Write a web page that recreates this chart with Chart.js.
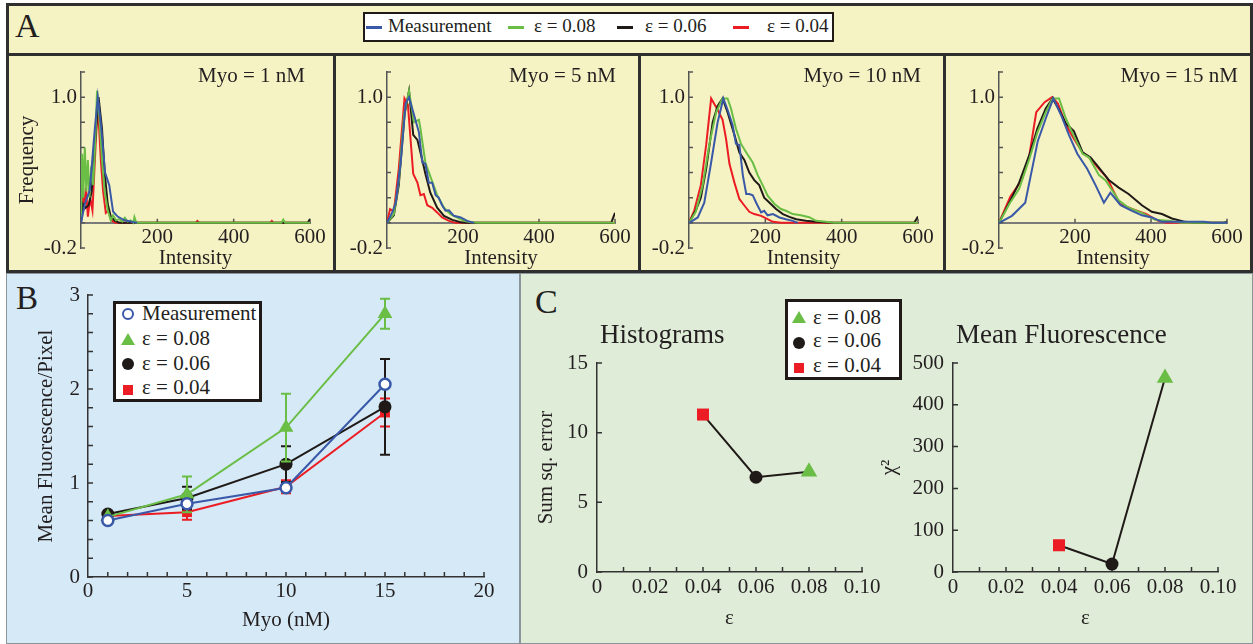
<!DOCTYPE html>
<html lang="en">
<head>
<meta charset="UTF-8">
<title>Histograms and mean fluorescence</title>
<script src="https://cdn.jsdelivr.net/npm/chart.js"></script>
<style>
  body { margin: 0; background: #fff; }
  #fig { position: relative; width: 1253px; height: 644px; overflow: hidden; font-family: 'Liberation Serif', 'Times New Roman', serif; color: #231f20; }
  .abs, .ln, .t, .box, .mk { position: absolute; }
  .ln { background: #2f2f2f; }
  .t { white-space: nowrap; line-height: 1; }
  .box { background: #fff; border: 3px solid #1f1a17; box-sizing: border-box; }
  canvas { position: absolute; }
</style>
</head>
<body>
<div id="fig">
  <!-- panel backgrounds -->
  <div class="abs" style="left:6px;top:3px;width:1247px;height:270px;background:#f5f3c3"></div>
  <div class="abs" style="left:6px;top:273px;width:514px;height:371px;background:#d5eaf6;border:1px solid #8a9499;box-sizing:border-box"></div>
  <div class="abs" style="left:520px;top:273px;width:733px;height:371px;background:#dfecd8;border:1px solid #8a9499;box-sizing:border-box"></div>

  <!-- panel A frame -->
  <div class="ln" style="left:6px;top:3px;width:1247px;height:3px"></div>
  <div class="ln" style="left:6px;top:53px;width:1247px;height:3px"></div>
  <div class="ln" style="left:6px;top:270px;width:1247px;height:3px"></div>
  <div class="ln" style="left:6px;top:3px;width:3px;height:270px"></div>
  <div class="ln" style="left:1250px;top:3px;width:3px;height:270px"></div>
  <div class="ln" style="left:333px;top:53px;width:3px;height:220px"></div>
  <div class="ln" style="left:638px;top:53px;width:3px;height:220px"></div>
  <div class="ln" style="left:943px;top:53px;width:3px;height:220px"></div>

  <!-- panel letters -->
  <div class="t" style="left:15px;top:9px;font-size:34px">A</div>
  <div class="t" style="left:16px;top:282px;font-size:33px">B</div>
  <div class="t" style="left:535px;top:285px;font-size:34px">C</div>

  <!-- legend A -->
  <div class="box" style="left:363px;top:12px;width:471px;height:30px;border-width:2px"></div>
  <div class="mk" style="left:366px;top:26px;width:16px;height:3px;background:#3a58a8"></div>
  <div class="t" style="left:388px;top:16px;font-size:19px">Measurement</div>
  <div class="mk" style="left:508px;top:26px;width:16px;height:3px;background:#6abd45"></div>
  <div class="t" style="left:534px;top:16px;font-size:19px">ε = 0.08</div>
  <div class="mk" style="left:617px;top:26px;width:16px;height:3px;background:#1f1a17"></div>
  <div class="t" style="left:645px;top:16px;font-size:19px">ε = 0.06</div>
  <div class="mk" style="left:733px;top:26px;width:16px;height:3px;background:#ec1c24"></div>
  <div class="t" style="left:767px;top:16px;font-size:19px">ε = 0.04</div>

  <!-- histogram charts -->
  <canvas id="a1" width="324" height="214" style="left:9px;top:56px"></canvas>
  <canvas id="a2" width="302" height="214" style="left:336px;top:56px"></canvas>
  <canvas id="a3" width="302" height="214" style="left:641px;top:56px"></canvas>
  <canvas id="a4" width="304" height="214" style="left:946px;top:56px"></canvas>
  <div class="t" style="right:948px;top:65px;font-size:21px">Myo = 1 nM</div>
  <div class="t" style="right:637px;top:65px;font-size:21px">Myo = 5 nM</div>
  <div class="t" style="right:332px;top:65px;font-size:21px">Myo = 10 nM</div>
  <div class="t" style="right:15px;top:65px;font-size:21px">Myo = 15 nM</div>

  <!-- panel B -->
  <canvas id="b" width="513" height="368" style="left:7px;top:276px"></canvas>
  <div class="box" style="left:113px;top:301px;width:149px;height:101px"></div>
  <div class="mk" style="left:122px;top:308px;width:12px;height:12px;border:2.5px solid #3a58a8;border-radius:50%;background:#fff;box-sizing:border-box"></div>
  <div class="mk" style="left:121px;top:333px;width:0;height:0;border-left:7px solid transparent;border-right:7px solid transparent;border-bottom:12px solid #6abd45"></div>
  <div class="mk" style="left:122px;top:358px;width:12px;height:12px;border-radius:50%;background:#1f1a17"></div>
  <div class="mk" style="left:123px;top:385px;width:10px;height:10px;background:#ec1c24"></div>
  <div class="t" style="left:142px;top:303px;font-size:21px">Measurement</div>
  <div class="t" style="left:142px;top:328px;font-size:21px">ε = 0.08</div>
  <div class="t" style="left:142px;top:353px;font-size:21px">ε = 0.06</div>
  <div class="t" style="left:142px;top:377px;font-size:21px">ε = 0.04</div>

  <!-- panel C -->
  <canvas id="c1" width="368" height="368" style="left:522px;top:276px"></canvas>
  <canvas id="c2" width="383" height="368" style="left:870px;top:276px"></canvas>
  <div class="t" style="left:600px;top:321px;font-size:27px">Histograms</div>
  <div class="t" style="left:956px;top:321px;font-size:27px">Mean Fluorescence</div>
  <div class="box" style="left:785px;top:299px;width:117px;height:81px"></div>
  <div class="mk" style="left:792px;top:311px;width:0;height:0;border-left:7px solid transparent;border-right:7px solid transparent;border-bottom:12px solid #6abd45"></div>
  <div class="mk" style="left:793px;top:337px;width:12px;height:12px;border-radius:50%;background:#1f1a17"></div>
  <div class="mk" style="left:794px;top:363px;width:10px;height:10px;background:#ec1c24"></div>
  <div class="t" style="left:813px;top:307px;font-size:21px">ε = 0.08</div>
  <div class="t" style="left:813px;top:330px;font-size:21px">ε = 0.06</div>
  <div class="t" style="left:813px;top:355px;font-size:21px">ε = 0.04</div>
</div>

<script>
const BLUE = '#3a58a8'
const GREEN = '#6abd45'
const BLACK = '#1f1a17'
const RED = '#ec1c24'

// ---- A: normalised intensity histograms, [intensity, frequency] ----
const a1Meas = [[0,0],[10,0.15],[23,0.26],[36,0.74],[44,1.0],[53,0.76],[63,0.4],[74,0.3],[84,0.09],[96,0.05],[114,0.02],[130,0.01],[147,0]]
const a1E08 = [[0,0],[3,0.55],[6,0.2],[10,0.6],[14,0.25],[18,0.5],[22,0.2],[27,0.45],[32,0.3],[38,0.7],[42,1.05],[48,0.85],[55,0.5],[62,0.25],[70,0.1],[78,0.02],[84,0.06],[92,0.02],[100,0.03],[108,0.01],[115,0.04],[122,0.01],[130,0.02],[137,0],[140,0.045],[145,0],[525,0],[530,0.025],[535,0],[600,0]]
const a1E06 = [[0,0],[5,0.15],[12,0.12],[20,0.14],[28,0.25],[36,0.6],[46,1.0],[55,0.75],[62,0.4],[70,0.15],[78,0.05],[88,0.02],[100,0],[594,0],[600,0.03]]
const a1E04 = [[0,0],[4,0.3],[8,0.1],[13,0.28],[18,0.05],[24,0.2],[30,0.1],[38,0.6],[44,0.95],[52,0.5],[58,0.25],[65,0.08],[72,0.1],[80,0.02],[90,0],[300,0],[305,0.015],[310,0],[495,0],[500,0.015],[505,0],[600,0]]

const a2Meas = [[0,0],[14,0.085],[23,0.16],[36,0.48],[49,0.95],[58,1.0],[71,0.86],[84,0.72],[93,0.48],[101,0.47],[110,0.32],[119,0.32],[128,0.22],[136,0.2],[145,0.14],[154,0.096],[163,0.1],[176,0.056],[194,0.043],[211,0.016],[229,0]]
const a2E08 = [[0,0],[18,0.07],[31,0.33],[45,0.86],[58,1.05],[71,0.8],[84,0.82],[88,0.75],[101,0.48],[114,0.37],[132,0.22],[150,0.12],[167,0.069],[189,0.035],[202,0.016],[220,0.005],[240,0],[600,0]]
const a2E06 = [[0,0],[18,0.06],[31,0.3],[46,0.86],[58,1.05],[69,0.7],[80,0.66],[92,0.51],[101,0.39],[114,0.24],[132,0.12],[150,0.056],[172,0.024],[194,0.005],[210,0],[590,0],[600,0.08]]
const a2E04 = [[0,0],[8,0.11],[18,0.09],[31,0.43],[46,0.99],[55,0.94],[69,0.39],[80,0.32],[88,0.22],[97,0.23],[106,0.14],[119,0.12],[132,0.083],[145,0.043],[163,0.016],[180,0],[600,0]]

const a3Meas = [[0,0],[23,0.043],[40,0.16],[58,0.48],[75,0.8],[90,0.99],[101,0.9],[114,0.78],[123,0.63],[132,0.62],[141,0.38],[150,0.23],[158,0.23],[167,0.22],[176,0.16],[189,0.083],[197,0.096],[206,0.06],[220,0.07],[237,0.043],[254,0.029],[272,0.016],[285,0]]
const a3E08 = [[0,0],[18,0.09],[36,0.3],[53,0.62],[71,0.88],[88,0.99],[101,0.99],[110,0.91],[123,0.75],[136,0.63],[150,0.56],[167,0.48],[180,0.38],[193,0.3],[206,0.216],[224,0.15],[241,0.11],[254,0.096],[272,0.07],[293,0.06],[315,0.045],[333,0.016],[359,0.008],[380,0],[600,0]]
const a3E06 = [[0,0],[18,0.1],[31,0.2],[45,0.43],[62,0.8],[75,0.93],[88,0.99],[101,0.88],[119,0.7],[132,0.56],[145,0.5],[158,0.4],[171,0.34],[184,0.3],[197,0.2],[211,0.16],[228,0.11],[246,0.07],[263,0.048],[281,0.029],[306,0.016],[333,0.008],[380,0],[590,0],[600,0.05]]
const a3E04 = [[0,0],[14,0.1],[31,0.3],[45,0.62],[58,0.99],[75,0.9],[88,0.82],[97,0.67],[106,0.47],[119,0.32],[132,0.19],[142,0.15],[158,0.088],[171,0.07],[189,0.056],[202,0.035],[220,0.008],[241,0],[600,0]]

const a4Meas = [[0,0],[34,0.056],[69,0.16],[102,0.65],[123,0.83],[143,0.99],[163,0.86],[184,0.7],[206,0.55],[232,0.43],[254,0.3],[276,0.16],[293,0.24],[320,0.14],[350,0.096],[376,0.06],[402,0.043],[429,0.008],[540,0.008],[560,0],[600,0]]
const a4E08 = [[0,0],[27,0.15],[53,0.27],[80,0.51],[101,0.72],[123,0.88],[141,0.99],[158,0.99],[176,0.83],[197,0.69],[220,0.55],[237,0.52],[263,0.38],[280,0.34],[315,0.18],[341,0.12],[376,0.08],[411,0.024],[446,0.016],[481,0],[600,0]]
const a4E06 = [[0,0],[27,0.16],[53,0.32],[80,0.54],[101,0.75],[123,0.91],[141,0.99],[158,0.9],[176,0.79],[197,0.73],[220,0.56],[241,0.52],[263,0.44],[289,0.34],[315,0.28],[341,0.23],[376,0.14],[402,0.088],[429,0.07],[455,0.035],[490,0.008],[516,0],[590,0],[600,0.01]]
const a4E04 = [[0,0],[30,0.21],[60,0.34],[80,0.54],[98,0.88],[120,0.96],[140,1.0],[155,0.95],[176,0.78],[197,0.67],[220,0.56],[241,0.51],[263,0.43],[284,0.36],[300,0.26],[318,0.15],[350,0.11],[388,0.07],[416,0.02],[440,0],[600,0]]

// ---- B: mean fluorescence per pixel vs myosin ----
const myo = [1, 5, 10, 15]
const bMeas = [0.60, 0.78, 0.95, 2.05]
const bE08 = [0.64, 0.88, 1.59, 2.80]
const bE08Err = [0, 0.19, 0.36, 0.16]
const bE06 = [0.67, 0.84, 1.20, 1.81]
const bE06Err = [0, 0.12, 0.19, 0.51]
const bE04 = [0.65, 0.69, 0.96, 1.75]
const bE04Err = [0.02, 0.08, 0.07, 0.15]

// ---- C: fit quality vs epsilon ----
const eps = [0.04, 0.06, 0.08]
const sumSqErr = [11.3, 6.8, 7.2]
const chiSq = [64, 19, 464]
const epsStyles = ['rect', 'circle', 'triangle']
const epsColors = [RED, BLACK, GREEN]
const epsSizes = [8.5, 6.5, 9.5]

Chart.defaults.font.family = "'Liberation Serif', 'Times New Roman', serif"
Chart.defaults.font.size = 21
Chart.defaults.color = '#231f20'
Chart.defaults.animation = false
Chart.defaults.plugins.legend.display = false
Chart.defaults.plugins.tooltip.enabled = false

// tick marks pointing into the plot
const inTicks = {
    id: 'inTicks',
    beforeDatasetsDraw(chart, args, o) {
        const { ctx, chartArea, scales: { x, y } } = chart
        const base = o.xAt === undefined ? chartArea.bottom : y.getPixelForValue(o.xAt)
        ctx.save()
        ctx.strokeStyle = o.color
        ctx.lineWidth = 1.5
        ctx.beginPath()
        x.ticks.forEach((t, i) => {
            if (t.value === x.min) return
            const px = x.getPixelForTick(i)
            ctx.moveTo(px, base)
            ctx.lineTo(px, base - o.len)
        })
        y.ticks.forEach((t, i) => {
            const py = y.getPixelForTick(i)
            ctx.moveTo(chartArea.left, py)
            ctx.lineTo(chartArea.left + o.len, py)
        })
        ctx.stroke()
        ctx.restore()
    }
}

// vertical error bars from dataset.errors
const errBars = {
    id: 'errBars',
    beforeDatasetDraw(chart, args) {
        const ds = chart.data.datasets[args.index]
        if (!ds.errors) return
        const { ctx, scales: { y } } = chart
        ctx.save()
        ctx.strokeStyle = ds.borderColor
        ctx.lineWidth = 2
        ctx.beginPath()
        args.meta.data.forEach((pt, i) => {
            const e = ds.errors[i]
            if (!e) return
            const v = ds.data[i].y
            const top = y.getPixelForValue(v + e)
            const bot = y.getPixelForValue(v - e)
            ctx.moveTo(pt.x, top); ctx.lineTo(pt.x, bot)
            ctx.moveTo(pt.x - 5, top); ctx.lineTo(pt.x + 5, top)
            ctx.moveTo(pt.x - 5, bot); ctx.lineTo(pt.x + 5, bot)
        })
        ctx.stroke()
        ctx.restore()
    }
}

const fixW = w => s => { s.width = w; s.paddingTop = 0; s.paddingBottom = 0 }
const fixH = h => s => { s.height = h; s.paddingLeft = 0; s.paddingRight = 0 }
const near = (a, b) => Math.abs(a - b) < 1e-6
const pts = arr => arr.map(([x, y]) => ({ x, y }))
const pair = (xs, ys) => xs.map((x, i) => ({ x, y: ys[i] }))

function histLine(data, color) {
    return { data: pts(data), borderColor: color, borderWidth: 2, pointRadius: 0, tension: 0 }
}

function histChart(id, series, pad, w, ytitle) {
    return new Chart(document.getElementById(id), {
        type: 'line',
        data: { datasets: [histLine(series[0], BLUE), histLine(series[1], GREEN), histLine(series[2], BLACK), histLine(series[3], RED)] },
        options: {
            responsive: false,
            layout: { padding: pad },
            scales: {
                x: {
                    type: 'linear', min: 0, max: 600, position: { y: 0 },
                    ticks: { stepSize: 200, padding: 2, maxRotation: 0, autoSkip: false, callback: v => v === 0 ? '' : v },
                    grid: { drawOnChartArea: false, drawTicks: false },
                    border: { color: '#7a7a7a', width: 2 },
                    title: { display: true, text: 'Intensity' },
                    afterFit: fixH(52)
                },
                y: {
                    min: -0.2, max: 1.2,
                    ticks: { stepSize: 0.2, padding: 4, autoSkip: false, callback: v => near(v, 1) ? '1.0' : near(v, -0.2) ? '-0.2' : '' },
                    grid: { drawOnChartArea: false, drawTicks: false },
                    border: { color: '#555', width: 1.5 },
                    title: { display: !!ytitle, text: ytitle || '' },
                    afterFit: fixW(w)
                }
            },
            plugins: { inTicks: { len: 4, xAt: 0, color: '#555' } }
        },
        plugins: [inTicks]
    })
}

// chart area: y from 72 (1.2) to 248 (-0.2) on the page
histChart('a1', [a1Meas, a1E08, a1E06, a1E04], { left: 2, top: 16, right: 23, bottom: 22 }, 70, 'Frequency')
histChart('a2', [a2Meas, a2E08, a2E06, a2E04], { left: 6, top: 16, right: 23, bottom: 22 }, 45)
histChart('a3', [a3Meas, a3E08, a3E06, a3E04], { left: 8, top: 16, right: 25, bottom: 22 }, 40)
histChart('a4', [a4Meas, a4E08, a4E06, a4E04], { left: 8, top: 16, right: 23, bottom: 22 }, 45)

// panel B
new Chart(document.getElementById('b'), {
    type: 'line',
    data: {
        datasets: [
            { data: pair(myo, bMeas), borderColor: BLUE, borderWidth: 2, pointStyle: 'circle', pointRadius: 5.5, pointBorderWidth: 2.5, pointBorderColor: BLUE, pointBackgroundColor: '#fff' },
            { data: pair(myo, bE08), errors: bE08Err, borderColor: GREEN, borderWidth: 2, pointStyle: 'triangle', pointRadius: 8.5, pointBorderWidth: 0, pointBackgroundColor: GREEN },
            { data: pair(myo, bE06), errors: bE06Err, borderColor: BLACK, borderWidth: 2, pointStyle: 'circle', pointRadius: 6.5, pointBorderWidth: 0, pointBackgroundColor: BLACK },
            { data: pair(myo, bE04), errors: bE04Err, borderColor: RED, borderWidth: 2, pointStyle: 'rect', pointRadius: 7, pointBorderWidth: 0, pointBackgroundColor: RED }
        ]
    },
    options: {
        responsive: false,
        layout: { padding: { left: 23, top: 19, right: 36, bottom: 7 } },
        scales: {
            x: {
                type: 'linear', min: 0, max: 20,
                ticks: { stepSize: 1, padding: 2, maxRotation: 0, autoSkip: false, callback: v => v % 5 === 0 ? v : '' },
                grid: { drawOnChartArea: false, drawTicks: false },
                border: { color: '#333', width: 1.5 },
                title: { display: true, text: 'Myo (nM)' },
                afterFit: fixH(60)
            },
            y: {
                min: 0, max: 3,
                ticks: { stepSize: 0.2, padding: 8, autoSkip: false, callback: v => near(v, Math.round(v)) ? Math.round(v) : '' },
                grid: { drawOnChartArea: false, drawTicks: false },
                border: { color: '#333', width: 1.5 },
                title: { display: true, text: 'Mean Fluorescence/Pixel' },
                afterFit: fixW(58)
            }
        },
        plugins: { inTicks: { len: 5, color: '#333' } }
    },
    plugins: [inTicks, errBars]
})

// panel C
function epsChart(id, values, ymax, ystep, ytitle, pad, w) {
    return new Chart(document.getElementById(id), {
        type: 'line',
        data: {
            datasets: [{
                data: pair(eps, values), borderColor: BLACK, borderWidth: 2,
                pointStyle: epsStyles, pointRadius: epsSizes, pointBorderWidth: 0,
                pointBackgroundColor: epsColors, pointBorderColor: epsColors
            }]
        },
        options: {
            responsive: false,
            layout: { padding: pad },
            scales: {
                x: {
                    type: 'linear', min: 0, max: 0.1,
                    ticks: { stepSize: 0.01, padding: 3, maxRotation: 0, autoSkip: false,
                        callback: v => v === 0 ? '0' : Math.round(v * 100) % 2 === 0 ? v.toFixed(2) : '' },
                    grid: { drawOnChartArea: false, drawTicks: false },
                    border: { color: '#333', width: 1.5 },
                    title: { display: true, text: 'ε' },
                    afterFit: fixH(63)
                },
                y: {
                    min: 0, max: ymax,
                    ticks: { stepSize: ystep, padding: 9, autoSkip: false },
                    grid: { drawOnChartArea: false, drawTicks: false },
                    border: { color: '#333', width: 1.5 },
                    title: { display: true, text: ytitle },
                    afterFit: fixW(w)
                }
            },
            plugins: { inTicks: { len: 5, color: '#333' } }
        },
        plugins: [inTicks]
    })
}

epsChart('c1', sumSqErr, 15, 5, 'Sum sq. error', { left: 8, top: 87, right: 28, bottom: 9 }, 67)
epsChart('c2', chiSq, 500, 100, 'χ²', { left: 3, top: 87, right: 35, bottom: 9 }, 80)
</script>
</body>
</html>
